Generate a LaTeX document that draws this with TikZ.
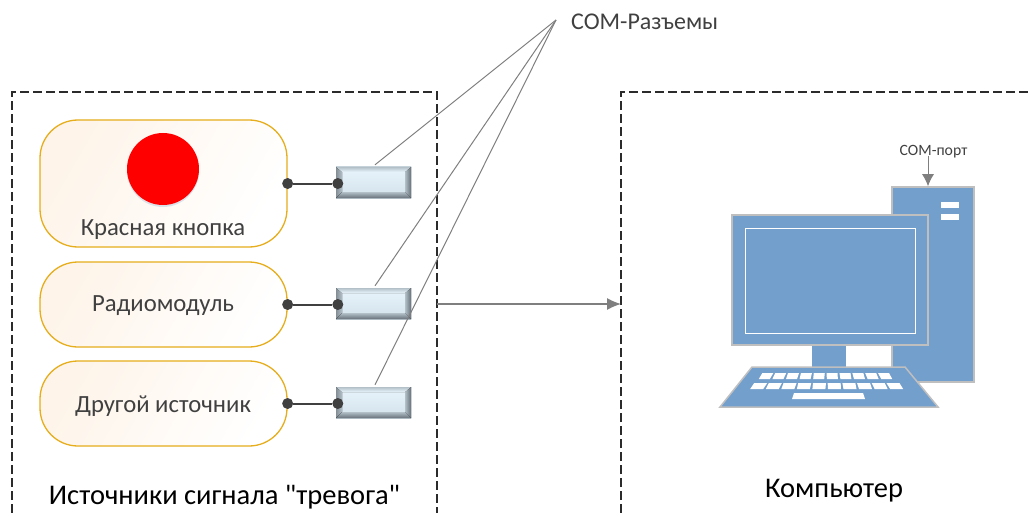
\documentclass[tikz,border=0pt]{standalone}
\usepackage{fontspec}
\setmainfont[Ligatures=TeXOff]{Carlito}
\usetikzlibrary{shadows,arrows.meta}
\definecolor{frameink}{HTML}{2B2B2B}
\definecolor{textink}{HTML}{404040}
\definecolor{boxline}{HTML}{E6AD1C}
\definecolor{boxtint}{HTML}{FEF4E9}
\definecolor{pcblue}{HTML}{739FCD}
\definecolor{pcline}{HTML}{BFBFBF}
\definecolor{wireink}{HTML}{7F7F7F}
\definecolor{jacklight}{HTML}{E8F5FD}
\definecolor{jackpale}{HTML}{D3E1EA}
\definecolor{jackmid}{HTML}{B4C0C8}
\definecolor{jackdark}{HTML}{66717A}
\tikzset{
    sourcebox/.style={draw=boxline, line width=1.3pt, rounded corners=38pt, minimum width=247pt, inner sep=0pt,
        left color=boxtint, middle color=white, right color=white, shading angle=60},
    portdot/.style={circle, fill=textink, minimum size=11pt, inner sep=0pt},
    comjack/.style={minimum width=75pt, minimum height=31pt, inner sep=0pt, path picture={
        \coordinate (sw) at (path picture bounding box.south west);
        \coordinate (ne) at (path picture bounding box.north east);
        \fill[top color=jacklight, bottom color=jackpale] (sw) rectangle (ne);
        \fill[left color=jackdark!80, right color=jackmid] (sw) -- ([xshift=6pt,yshift=6pt]sw) -- ([yshift=-5pt,xshift=6pt]sw |- ne) -- (sw |- ne) -- cycle;
        \fill[left color=jackmid, right color=jackdark] (ne) -- ([xshift=-6pt,yshift=-5pt]ne) -- ([xshift=-6pt,yshift=6pt]ne |- sw) -- (ne |- sw) -- cycle;
        \fill[top color=jackmid, bottom color=jackdark] (sw) -- ([xshift=6pt,yshift=6pt]sw) -- ([xshift=-6pt,yshift=6pt]ne |- sw) -- (ne |- sw) -- cycle;
        \fill[top color=jackmid, bottom color=jacklight] (sw |- ne) -- ([xshift=6pt,yshift=-5pt]sw |- ne) -- ([xshift=-6pt,yshift=-5pt]ne) -- (ne) -- cycle;
    }},
    wire/.style={draw=wireink, line width=1pt},
    pcpart/.style={fill=pcblue, draw=pcline, line width=1.5pt},
    plaintext/.style={text=textink, inner sep=0pt}
}
\begin{document}
\begin{tikzpicture}[x=1pt,y=-1pt]
        \useasboundingbox (0,0) rectangle (1032,513);

        % Пунктирные рамки
        \draw[frameink, line width=1.2pt, dash pattern=on 9pt off 4pt] (12,513) -- (12,92) -- (437,92) -- (437,513);
        \draw[frameink, line width=1.2pt, dash pattern=on 9pt off 4pt] (621,513) -- (621,92) -- (1032,92);

        % Источники сигнала
        \node[sourcebox, minimum height=127pt] (boxA) at (163.5,183.5) {};
        \node[sourcebox, minimum height=85pt] (boxB) at (163.5,304.5) {};
        \node[sourcebox, minimum height=85pt] (boxC) at (163.5,403.5) {};
        \node[circle, fill=red, minimum size=72pt, inner sep=0pt, drop shadow={shadow xshift=0pt, shadow yshift=-2pt, opacity=.25, fill=pcblue}] (redbutton) at (163,169) {};
        \node[plaintext, font=\fontsize{24.7}{24.7}\selectfont] (textA) at (163,230) {Красная кнопка};
        \node[plaintext, font=\fontsize{24.7}{24.7}\selectfont] (textB) at (163,306) {Радиомодуль};
        \node[plaintext, font=\fontsize{24.7}{24.7}\selectfont] (textC) at (163,406) {Другой источник};

        % Разъемы
        \foreach \name/\ypos in {A/182.5,B/303.5,C/402.5} {
            \node[comjack] (jack\name) at (373.5,\ypos) {};
            \node[portdot] (dotl\name) at (box\name.east) {};
            \node[portdot] (dotr\name) at ([xshift=2pt]jack\name.west |- box\name.east) {};
            \draw[textink, line width=2pt] (dotl\name) -- (dotr\name);
        }

        % Выноски
        \coordinate (apex) at (556,20);
        \node[plaintext, anchor=west, font=\fontsize{24}{24}\selectfont] (comlabel) at (571,22) {COM-Разъемы};
        \foreach \name in {A,B,C} {
            \draw[wire] (apex) -- ([xshift=1.5pt,yshift=2pt]jack\name.north);
        }

        % Связь с компьютером
        \coordinate (leftedge) at (437,304);
        \coordinate (rightedge) at (621,304);
        \draw[wire, line width=1.2pt, -{Latex[length=14pt,width=12pt]}] (leftedge) -- (rightedge);

        % Компьютер
        \node[pcpart, minimum width=82pt, minimum height=195pt, inner sep=0pt] (tower) at (933,284.5) {};
        \fill[white] (941,202) rectangle (959,208);
        \fill[white] (941,214) rectangle (959,220);
        \node[pcpart, minimum width=34pt, minimum height=24pt, inner sep=0pt, draw=none] (stand) at (829,356) {};
        \node[pcpart, minimum width=196pt, minimum height=130pt, inner sep=0pt] (monitor) at (830,280) {};
        \node[draw=white, line width=1pt, minimum width=170pt, minimum height=105pt, inner sep=0pt] (screen) at (830,280.5) {};
        \draw[pcpart] (752,367) -- (905,367) -- (938,407) -- (720,407) -- cycle;
        \foreach \i in {0,...,9} {
            \fill[white] ({764.3+\i*13.6-5.5},379) -- ({764.3+\i*13.6+5.5},379) -- ({764.3+\i*13.6+5.5-(764.3+\i*13.6-829)*0.055},373) -- ({764.3+\i*13.6-5.5-(764.3+\i*13.6-829)*0.055},373) -- cycle;
            \fill[white] ({756.7+\i*15.55-6.5},389) -- ({756.7+\i*15.55+6.5},389) -- ({756.7+\i*15.55+6.5-(756.7+\i*15.55-829)*0.055},383) -- ({756.7+\i*15.55-6.5-(756.7+\i*15.55-829)*0.055},383) -- cycle;
        }
        \fill[white] (792,399) -- (865,399) -- (863,393) -- (794,393) -- cycle;

        % COM-порт
        \node[plaintext, font=\fontsize{15.7}{15.7}\selectfont] (portlabel) at (933.5,152) {COM-порт};
        \draw[wire, -{Latex[length=12pt,width=12pt]}] ([xshift=-5.5pt,yshift=3pt]portlabel.south) -- ([xshift=-5pt]tower.north);

        % Подписи
        \node[inner sep=0pt, text=black, font=\fontsize{28.5}{28.5}\selectfont] (titleleft) at (224.5,497) {Источники сигнала "тревога"};
        \node[inner sep=0pt, text=black, font=\fontsize{28.5}{28.5}\selectfont] (titleright) at (834,491) {Компьютер};
        \end{tikzpicture}
\end{document}
